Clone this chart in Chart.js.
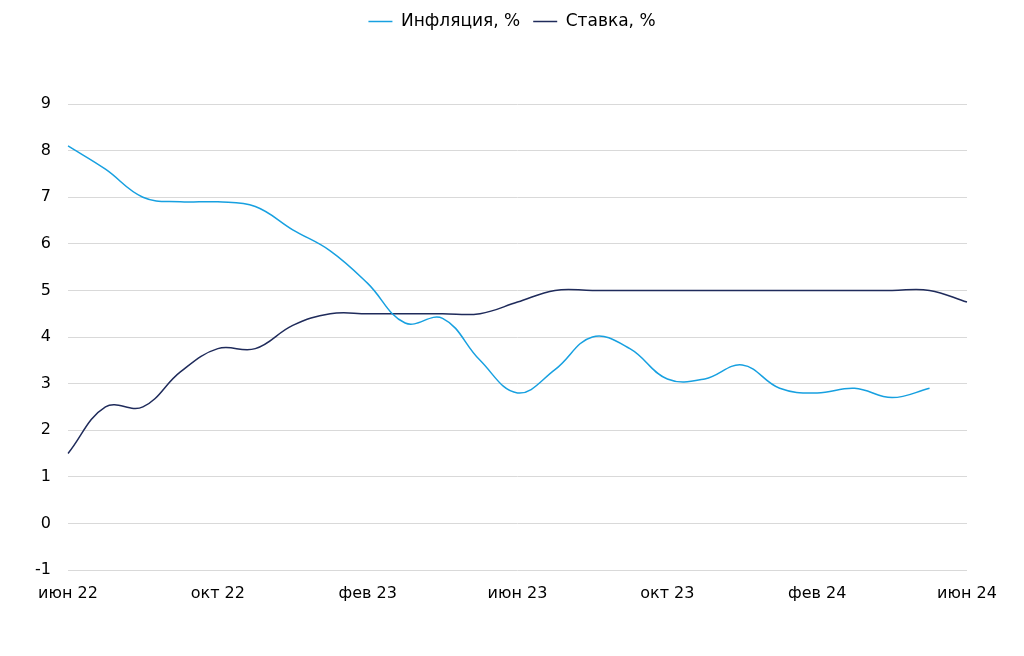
<!doctype html>
<html lang="ru">
<head>
  <meta charset="utf-8" />
  <title>Инфляция и ставка</title>
  <script src="https://cdn.jsdelivr.net/npm/chart.js"></script>
  <style>
    html, body { margin: 0; padding: 0; background: #fff; overflow: hidden; }
    canvas { display: block; }
  </style>
</head>
<body>
  <canvas id="chart" width="1024" height="656"></canvas>
  <script>
    const months = [
      'июн 22', 'июл 22', 'авг 22', 'сен 22', 'окт 22', 'ноя 22', 'дек 22',
      'янв 23', 'фев 23', 'мар 23', 'апр 23', 'май 23', 'июн 23', 'июл 23',
      'авг 23', 'сен 23', 'окт 23', 'ноя 23', 'дек 23', 'янв 24', 'фев 24',
      'мар 24', 'апр 24', 'май 24', 'июн 24',
    ];
    const inflation = [
      8.1, 7.6, 7.0, 6.9, 6.9, 6.8, 6.3, 5.85, 5.15, 4.3, 4.4, 3.5, 2.8,
      3.3, 4.0, 3.75, 3.1, 3.1, 3.4, 2.9, 2.8, 2.9, 2.7, 2.9, null,
    ];
    const rate = [
      1.5, 2.5, 2.5, 3.25, 3.75, 3.75, 4.25, 4.5, 4.5, 4.5, 4.5, 4.5, 4.75,
      5.0, 5.0, 5.0, 5.0, 5.0, 5.0, 5.0, 5.0, 5.0, 5.0, 5.0, 4.75,
    ];
    const yTicks = [-1, 0, 1, 2, 3, 4, 5, 6, 7, 8, 9];

    const family = '"DejaVu Sans", Verdana, sans-serif';
    const tickFont = { family, size: 16 };
    const legendFont = { family, size: 17 };

    // legend block reserves the empty band between the legend and the plot
    const legendSpacer = {
      id: 'legendSpacer',
      beforeLayout(chart) {
        const legend = chart.legend;
        if (!legend || legend._spaced) return;
        const fit = legend.fit;
        legend.fit = function () { fit.call(this); this.height = 104; };
        legend._spaced = true;
      },
    };

    new Chart(document.getElementById('chart'), {
      type: 'line',
      data: {
        labels: months,
        datasets: [
          {
            label: 'Инфляция, %',
            data: inflation,
            borderColor: '#17a0e0',
            backgroundColor: '#17a0e0',
            borderWidth: 1.5,
            pointRadius: 0,
            tension: 0.4,
            spanGaps: false,
          },
          {
            label: 'Ставка, %',
            data: rate,
            borderColor: '#1f2b5b',
            backgroundColor: '#1f2b5b',
            borderWidth: 1.5,
            pointRadius: 0,
            tension: 0.4,
          },
        ],
      },
      plugins: [legendSpacer],
      options: {
        responsive: false,
        animation: false,
        layout: { padding: 0 },
        plugins: {
          legend: {
            position: 'top',
            labels: {
              font: legendFont,
              color: '#000',
              usePointStyle: true,
              pointStyle: 'line',
              pointStyleWidth: 24,
              padding: 13,
            },
          },
          tooltip: { enabled: false },
        },
        scales: {
          x: {
            grid: { display: false, drawTicks: false },
            border: { display: false },
            ticks: {
              font: tickFont,
              color: '#000',
              autoSkip: false,
              maxRotation: 0,
              padding: 14,
              callback: (value, index) => (index % 4 === 0 ? months[index] : ''),
            },
            afterFit: (scale) => { scale.height = 86; },
          },
          y: {
            min: -1,
            max: 9,
            afterBuildTicks: (scale) => { scale.ticks = yTicks.map((v) => ({ value: v })); },
            grid: { color: '#d9d9d9', drawTicks: false },
            border: { display: false },
            ticks: { font: tickFont, color: '#000', padding: 17 },
            afterFit: (scale) => { scale.width = 68; },
          },
          right: {
            position: 'right',
            grid: { display: false, drawTicks: false },
            border: { display: false },
            ticks: { display: false },
            afterFit: (scale) => { scale.width = 57; },
          },
        },
      },
    });
  </script>
</body>
</html>
